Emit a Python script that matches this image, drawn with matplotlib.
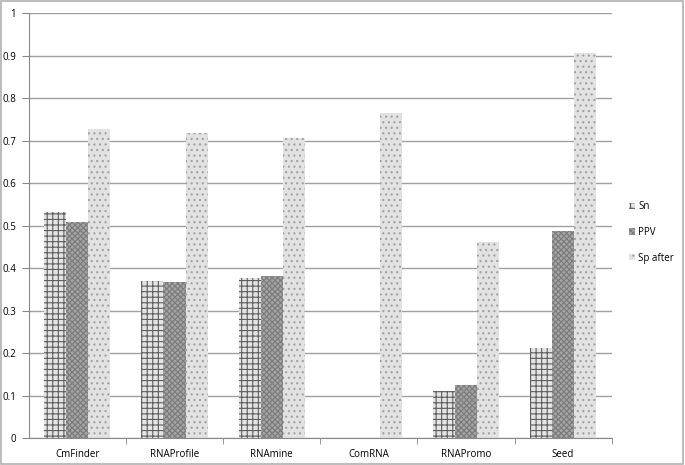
import numpy as np
import matplotlib.pyplot as plt
import matplotlib.patches as mpatches

# datos
programas = ["CmFinder", "RNAProfile", "RNAmine", "ComRNA", "RNAPromo", "Seed"]
sn = [0.532, 0.370, 0.377, 0.0, 0.110, 0.213]
ppv = [0.508, 0.368, 0.381, 0.0, 0.125, 0.488]
sp_after = [0.727, 0.718, 0.706, 0.765, 0.462, 0.905]
series = ["Sn", "PPV", "Sp after"]

plt.rcParams['font.family'] = ['Open Sans', 'DejaVu Sans']
plt.rcParams['hatch.linewidth'] = 0.8

fig = plt.figure(figsize=(6.85, 4.65), dpi=100)
ax = fig.add_axes([0.042, 0.058, 0.851, 0.914])

x = np.arange(len(programas))
w = 0.227
estilos = [
    dict(facecolor='#e4e4e4', edgecolor='#5e5e5e', hatch='+++'),
    dict(facecolor='#a4a4a4', edgecolor='#7a7a7a', hatch='xxxxxx'),
    dict(facecolor='#e2e2e2', edgecolor='#a0a0a0', hatch='...'),
]
for i, (vals, st) in enumerate(zip([sn, ppv, sp_after], estilos)):
    ax.bar(x + (i - 1) * w, vals, width=w, linewidth=0, label=series[i], **st)

ax.set_xlim(-0.5, len(programas) - 0.5)
ax.set_ylim(0, 1)
ax.set_yticks(np.arange(0, 1.01, 0.1))
ax.set_yticklabels(["0", "0.1", "0.2", "0.3", "0.4", "0.5", "0.6", "0.7", "0.8", "0.9", "1"])
ax.yaxis.grid(True, color='#a0a0a0', linewidth=1)
ax.set_axisbelow(True)

ax.set_xticks(x)
ax.set_xticklabels(programas)
ax.set_xticks(np.arange(0.5, len(programas), 1), minor=True)
ax.tick_params(axis='x', which='major', length=0, labelsize=7, pad=8)
ax.tick_params(axis='x', which='minor', length=4, color='#888888')
ax.tick_params(axis='y', length=5, color='#888888', labelsize=7, pad=4)

for s in ['top', 'right']:
    ax.spines[s].set_visible(False)
for s in ['left', 'bottom']:
    ax.spines[s].set_color('#888888')

handles = [mpatches.Patch(label=series[i], linewidth=0, **estilos[i]) for i in range(3)]
fig.legend(handles=handles, loc='center left', bbox_to_anchor=(0.905, 0.5),
           frameon=False, fontsize=7, handlelength=0.6, handleheight=0.6,
           handletextpad=0.4, labelspacing=1.5)

# marco gris alrededor de la figura
fig.patches.append(mpatches.Rectangle((0.001, 0.002), 0.996, 0.995, transform=fig.transFigure,
                                      fill=False, edgecolor='#b0b0b0', linewidth=1.2))

plt.savefig("out.png", dpi=100)
